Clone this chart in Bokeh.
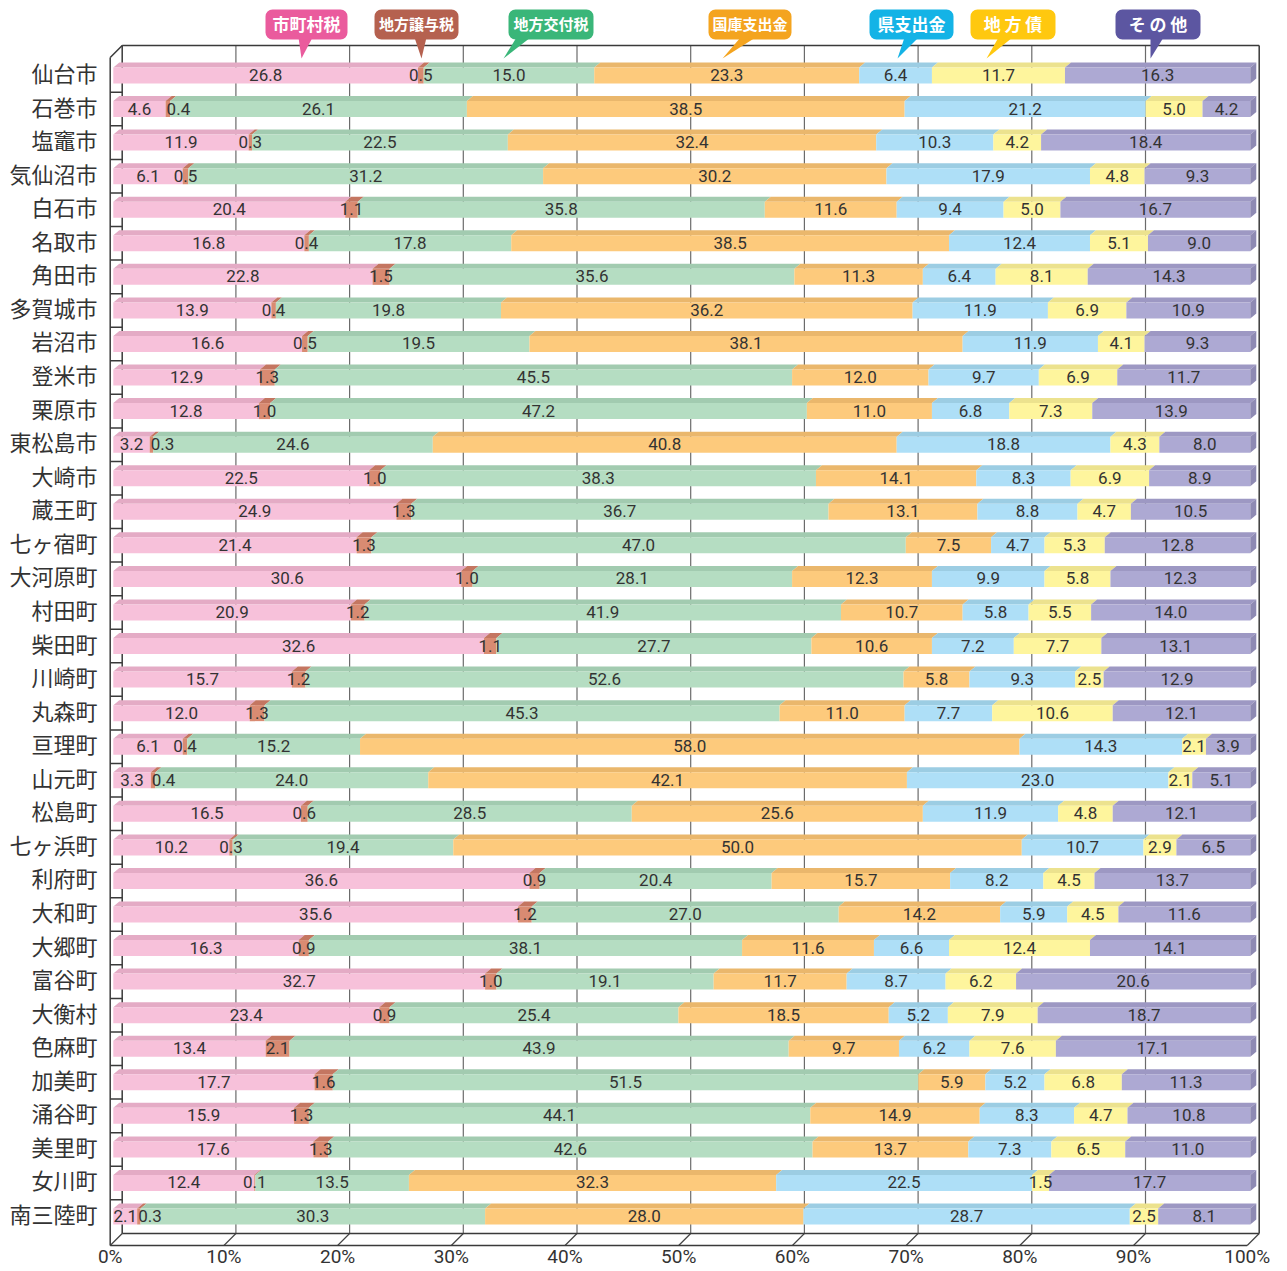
import numpy as np
from bokeh.plotting import figure
from bokeh.models import Range1d, ColumnDataSource
from bokeh.core.properties import value
from bokeh.embed import file_html
from bokeh.resources import INLINE

# ---------------- data ----------------
municipalities = ["仙台市", "石巻市", "塩竈市", "気仙沼市", "白石市", "名取市", "角田市", "多賀城市",
                  "岩沼市", "登米市", "栗原市", "東松島市", "大崎市", "蔵王町", "七ヶ宿町", "大河原町",
                  "村田町", "柴田町", "川崎町", "丸森町", "亘理町", "山元町", "松島町", "七ヶ浜町",
                  "利府町", "大和町", "大郷町", "富谷町", "大衡村", "色麻町", "加美町", "涌谷町",
                  "美里町", "女川町", "南三陸町"]
categories = ["市町村税", "地方譲与税", "地方交付税", "国庫支出金", "県支出金", "地方債", "その他"]
legend_labels = ["市町村税", "地方譲与税", "地方交付税", "国庫支出金", "県支出金", "地 方 債", "そ の 他"]

municipal_tax = [26.8, 4.6, 11.9, 6.1, 20.4, 16.8, 22.8, 13.9, 16.6, 12.9, 12.8, 3.2, 22.5, 24.9, 21.4, 30.6,
                 20.9, 32.6, 15.7, 12.0, 6.1, 3.3, 16.5, 10.2, 36.6, 35.6, 16.3, 32.7, 23.4, 13.4, 17.7, 15.9,
                 17.6, 12.4, 2.1]
transfer_tax = [0.5, 0.4, 0.3, 0.5, 1.1, 0.4, 1.5, 0.4, 0.5, 1.3, 1.0, 0.3, 1.0, 1.3, 1.3, 1.0,
                1.2, 1.1, 1.2, 1.3, 0.4, 0.4, 0.6, 0.3, 0.9, 1.2, 0.9, 1.0, 0.9, 2.1, 1.6, 1.3,
                1.3, 0.1, 0.3]
allocation_tax = [15.0, 26.1, 22.5, 31.2, 35.8, 17.8, 35.6, 19.8, 19.5, 45.5, 47.2, 24.6, 38.3, 36.7, 47.0, 28.1,
                  41.9, 27.7, 52.6, 45.3, 15.2, 24.0, 28.5, 19.4, 20.4, 27.0, 38.1, 19.1, 25.4, 43.9, 51.5, 44.1,
                  42.6, 13.5, 30.3]
national_disb = [23.3, 38.5, 32.4, 30.2, 11.6, 38.5, 11.3, 36.2, 38.1, 12.0, 11.0, 40.8, 14.1, 13.1, 7.5, 12.3,
                 10.7, 10.6, 5.8, 11.0, 58.0, 42.1, 25.6, 50.0, 15.7, 14.2, 11.6, 11.7, 18.5, 9.7, 5.9, 14.9,
                 13.7, 32.3, 28.0]
pref_disb = [6.4, 21.2, 10.3, 17.9, 9.4, 12.4, 6.4, 11.9, 11.9, 9.7, 6.8, 18.8, 8.3, 8.8, 4.7, 9.9,
             5.8, 7.2, 9.3, 7.7, 14.3, 23.0, 11.9, 10.7, 8.2, 5.9, 6.6, 8.7, 5.2, 6.2, 5.2, 8.3,
             7.3, 22.5, 28.7]
local_bonds = [11.7, 5.0, 4.2, 4.8, 5.0, 5.1, 8.1, 6.9, 4.1, 6.9, 7.3, 4.3, 6.9, 4.7, 5.3, 5.8,
               5.5, 7.7, 2.5, 10.6, 2.1, 2.1, 4.8, 2.9, 4.5, 4.5, 12.4, 6.2, 7.9, 7.6, 6.8, 4.7,
               6.5, 1.5, 2.5]
others = [16.3, 4.2, 18.4, 9.3, 16.7, 9.0, 14.3, 10.9, 9.3, 11.7, 13.9, 8.0, 8.9, 10.5, 12.8, 12.3,
          14.0, 13.1, 12.9, 12.1, 3.9, 5.1, 12.1, 6.5, 13.7, 11.6, 14.1, 20.6, 18.7, 17.1, 11.3, 10.8,
          11.0, 17.7, 8.1]
series = [municipal_tax, transfer_tax, allocation_tax, national_disb, pref_disb, local_bonds, others]

x_ticks = [0, 10, 20, 30, 40, 50, 60, 70, 80, 90, 100]
x_tick_labels = ["0%", "10%", "20%", "30%", "40%", "50%", "60%", "70%", "80%", "90%", "100%"]

# ---------------- styles ----------------
front_col = ["#F7C1DA", "#D98B72", "#B5DDC2", "#FDCA7C", "#AEDFF7", "#FEF59D", "#ADA9D3"]
top_col = ["#E4ABC5", "#C47661", "#A2CBB0", "#EAB76C", "#9CCDE3", "#ECE28E", "#9D98C3"]
end_col = "#8E8AB3"
legend_col = ["#EA5B9D", "#B5614F", "#3AB679", "#F4A41F", "#14B3E6", "#FFC80F", "#5C56A1"]

# pixel geometry (picture pixels) -> data conversion
SX, X0 = 11.37, 112.8      # px per percent, x of 0 %
SY, Y0 = 33.56, 75.0       # px per row, y of first row centre


def X(px):
    return (px - X0) / SX


def Y(py):
    return (py - Y0) / SY


W, H = 1284, 1271
p = figure(width=W, height=H, output_backend="svg", toolbar_location=None,
           x_range=Range1d(X(0), X(W)), y_range=Range1d(Y(H), Y(0)),
           min_border=0)
p.axis.visible = False
p.grid.visible = False
p.outline_line_color = None
p.background_fill_color = "white"

n = len(municipalities)
rows = np.arange(n)
DEPTH_X, DEPTH_Y = 12 / SX, -12 / SY      # frame depth
FRONT_OFF = -3.1 / SX                      # frame front relative to bars
y_front_bottom = Y(1245)
y_back_top = Y(45)
y_front_top = Y(57)

# ---------------- frame / back wall ----------------
grid_front = [FRONT_OFF + t for t in x_ticks]
grid_back = [g + DEPTH_X for g in grid_front]
p.segment(x0=grid_back[1:-1], y0=[y_back_top] * 9, x1=grid_back[1:-1],
          y1=[y_front_bottom + DEPTH_Y] * 9, line_color="#6b6b6b", line_width=1.2)
p.segment(x0=grid_front, y0=[y_front_bottom] * 11, x1=grid_back,
          y1=[y_front_bottom + DEPTH_Y] * 11, line_color="#444444", line_width=1.2)
frame_x0 = [grid_back[0], grid_back[0], grid_back[-1], grid_back[0], grid_front[0], grid_front[0], grid_front[0]]
frame_y0 = [y_back_top, y_back_top, y_back_top, y_front_bottom + DEPTH_Y, y_front_top, y_front_bottom, y_front_top]
frame_x1 = [grid_back[0], grid_back[-1], grid_back[-1], grid_back[-1], grid_front[0], grid_front[-1], grid_back[0]]
frame_y1 = [y_front_bottom + DEPTH_Y, y_back_top, y_front_bottom + DEPTH_Y, y_front_bottom + DEPTH_Y,
            y_front_bottom, y_front_bottom, y_back_top]
p.segment(x0=frame_x0, y0=frame_y0, x1=frame_x1, y1=frame_y1, line_color="#3a3a3a", line_width=1.5)
bounds = rows[:-1] + 0.5
p.segment(x0=[grid_front[0]] * len(bounds), y0=bounds, x1=[grid_back[0]] * len(bounds), y1=bounds,
          line_color="#3a3a3a", line_width=1.5)

# ---------------- bars ----------------
vals = np.array(series)            # (7, n)
cum = np.cumsum(vals, axis=0)
starts = cum - vals
HALF = 8.0 / SY
BX, BY = 6 / SX, -5 / SY

for k in range(len(categories)):
    l = starts[k]
    r = cum[k]
    top = rows - HALF
    xs = [[l[i], l[i] + BX, r[i] + BX, r[i]] for i in range(n)]
    ys = [[top[i], top[i] + BY, top[i] + BY, top[i]] for i in range(n)]
    p.patches(xs=xs, ys=ys, fill_color=top_col[k], line_color=None)

for k in range(len(categories)):
    src = ColumnDataSource(dict(left=starts[k], right=cum[k], top=rows - HALF, bottom=rows + HALF))
    p.quad(left="left", right="right", top="top", bottom="bottom", source=src,
           fill_color=front_col[k], line_color=None)

ends = cum[-1]
xs = [[ends[i], ends[i] + BX, ends[i] + BX, ends[i]] for i in range(n)]
ys = [[rows[i] - HALF, rows[i] - HALF + BY, rows[i] + HALF + BY, rows[i] + HALF] for i in range(n)]
p.patches(xs=xs, ys=ys, fill_color=end_col, line_color=None)

# ---------------- value labels ----------------
NUM_FONT = value("Roboto")
lx, ly, lt, la = [], [], [], []
for k in range(len(categories)):
    for i in range(n):
        v = vals[k, i]
        if k == 1 and vals[0, i] < 6:
            lx.append(starts[k, i] + 1 / SX)
            la.append("left")
        else:
            lx.append((starts[k, i] + cum[k, i]) / 2)
            la.append("center")
        ly.append(rows[i] - 0.5 / SY)
        lt.append(f"{v:.1f}")
p.text(x=lx, y=ly, text=lt, text_align=la, text_baseline="middle",
       text_font=NUM_FONT, text_font_size="17px", text_color="#333333")

# ---------------- category labels ----------------
p.text(x=[X(97)] * n, y=rows - 3.5 / SY, text=municipalities, text_align="right", text_baseline="middle",
       text_font=value("Noto Sans CJK JP"), text_font_size="22px", text_color="#333333")

# ---------------- x tick labels ----------------
p.text(x=grid_front, y=[Y(1256)] * 11, text=x_tick_labels, text_align="center", text_baseline="middle",
       text_font=NUM_FONT, text_font_size="19px", text_color="#333333")

# ---------------- legend callouts ----------------
box_l = [265, 374, 508, 708, 869, 970, 1115]
box_r = [347, 458, 593, 791, 953, 1055, 1200]
tip_x = [301, 421, 503, 722, 897, 986, 1150]
base_x = [(298, 312), (414, 426), (516, 530), (740, 755), (904, 918), (998, 1012), (1150, 1163)]
bt, bb = Y(9), Y(39)
p.patches(xs=[[X(a), X(b), X(t)] for (a, b), t in zip(base_x, tip_x)],
          ys=[[Y(37), Y(37), Y(58)] for _ in tip_x], fill_color=legend_col, line_color=None)
p.quad(left=[X(v) for v in box_l], right=[X(v) for v in box_r], top=[bt] * 7, bottom=[bb] * 7,
       fill_color=legend_col, line_color=None, border_radius=7)
leg_src = ColumnDataSource(dict(
    x=[(X(a) + X(b)) / 2 for a, b in zip(box_l, box_r)], y=[Y(23)] * 7, text=legend_labels,
    size=["17px" if len(t) <= 4 else ("15px" if " " not in t else "17px") for t in legend_labels]))
p.text(x="x", y="y", text="text", source=leg_src,
       text_align="center", text_baseline="middle", text_font=value("Noto Sans CJK JP"),
       text_font_style="bold", text_font_size="size", text_color="white")

open("out.html", "w").write(file_html(p, INLINE))
